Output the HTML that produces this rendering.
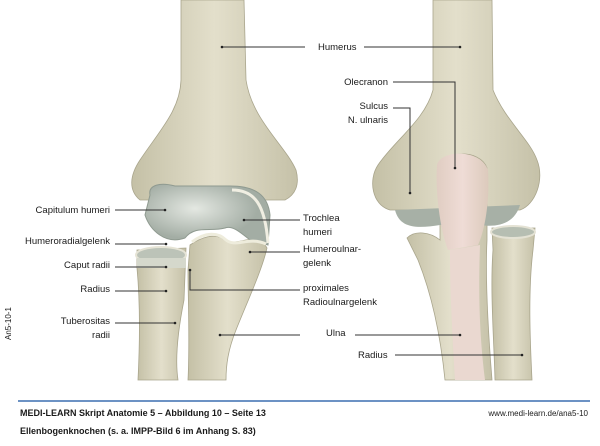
<!DOCTYPE html>
<html><head><meta charset="utf-8"><style>
body{margin:0;background:#fff;width:600px;height:441px;overflow:hidden}
svg text{font-family:"Liberation Sans",sans-serif;font-size:9.5px;fill:#1a1a1a}
</style></head><body>
<svg width="600" height="441" viewBox="0 0 600 441">
<defs>
<linearGradient id="b" x1="0" x2="1"><stop offset="0" stop-color="#c4c0a6"/><stop offset="0.5" stop-color="#e3dfcb"/><stop offset="1" stop-color="#c5c1a8"/></linearGradient>
<linearGradient id="pk" x1="0" x2="1"><stop offset="0" stop-color="#e0cdc2"/><stop offset="0.5" stop-color="#efdcd6"/><stop offset="1" stop-color="#dccabc"/></linearGradient>
<radialGradient id="c" cx="0.4" cy="0.4"><stop offset="0" stop-color="#e4e8e2"/><stop offset="1" stop-color="#a3ada4"/></radialGradient>
</defs>
<g stroke="#a9a58c" stroke-width="0.8">
<path d="M181,0 L244,0 L246,80 C252,120 285,145 296,170 C300,185 295,195 285,200 L140,200 C128,190 130,175 140,160 C160,130 180,110 181,80 Z" fill="url(#b)"/>
<path d="M137,250 L186,248 L184,300 C178,330 175,360 178,380 L138,380 C140,340 140,300 137,268 Z" fill="url(#b)"/>
<path d="M190,245 C200,238 215,232 225,240 C235,246 248,236 262,240 L267,248 C262,270 248,300 236,330 C228,350 226,365 226,380 L188,380 C190,340 188,300 188,270 Z" fill="url(#b)"/>
<path d="M433,0 L492,0 L493,90 C505,120 530,140 537,160 C545,180 535,205 520,210 L390,210 C372,205 368,180 378,165 C395,140 425,120 433,90 Z" fill="url(#b)"/>
<path d="M492,228 L535,228 L533,250 C528,290 530,340 532,380 L495,380 C494,340 490,290 493,250 Z" fill="url(#b)"/>
<path d="M407,238 C415,230 430,232 440,240 L440,170 C440,150 480,148 487,168 L487,240 C485,280 488,330 492,380 L445,380 C440,330 430,290 418,260 Z" fill="url(#b)"/>
</g>
<path d="M150,195 C148,185 160,182 175,186 L230,186 C255,186 268,195 270,215 L268,245 L250,240 C240,232 232,225 225,228 C210,232 195,225 185,238 C165,245 150,230 145,215 Z" fill="url(#c)" stroke="#8f9a90" stroke-width="1"/>
<path d="M232,190 C255,190 265,205 268,243" stroke="#f0eee2" stroke-width="3" fill="none"/>
<ellipse cx="161" cy="255" rx="25" ry="8" fill="#bcc3b8" stroke="#e6e4d6" stroke-width="2"/>
<path d="M137,258 L186,258 L186,268 L137,268 Z" fill="#d5d8cc"/>
<path d="M192,242 C205,232 218,232 226,240 C236,248 248,236 266,244" stroke="#eeecdc" stroke-width="3" fill="none"/>
<path d="M395,210 C400,230 420,228 440,225 L480,225 C500,228 515,222 520,205" fill="#a7b0a6"/>
<ellipse cx="513" cy="232" rx="22" ry="6" fill="#b6beb2" stroke="#e4e2d4" stroke-width="2"/>
<path d="M437,165 C440,150 480,148 488,170 C490,200 485,230 478,245 L448,250 C440,230 435,190 437,165 Z" fill="url(#pk)"/>
<path d="M450,250 L480,245 C478,300 480,340 485,380 L455,380 C452,330 450,290 450,250 Z" fill="#ead8d0"/>
<g stroke="#333" stroke-width="1" fill="none">
<path d="M222,47 L305,47"/><path d="M364,47 L460,47"/>
<path d="M393,82 L455,82 L455,168"/><path d="M393,108 L410,108 L410,193"/>
<path d="M115,210 L165,210"/><path d="M115,244 L166,244"/><path d="M115,267 L166,267"/>
<path d="M115,291 L166,291"/><path d="M115,323 L175,323"/>
<path d="M244,220 L300,220"/><path d="M250,252 L300,252"/>
<path d="M190,270 L190,290 L300,290"/>
<path d="M220,335 L300,335"/><path d="M355,335 L460,335"/>
<path d="M395,355 L522,355"/>
</g>
<g fill="#222">
<circle cx="222" cy="47" r="1.3"/><circle cx="460" cy="47" r="1.3"/><circle cx="455" cy="168" r="1.3"/><circle cx="410" cy="193" r="1.3"/>
<circle cx="165" cy="210" r="1.3"/><circle cx="166" cy="244" r="1.3"/><circle cx="166" cy="267" r="1.3"/><circle cx="166" cy="291" r="1.3"/><circle cx="175" cy="323" r="1.3"/>
<circle cx="244" cy="220" r="1.3"/><circle cx="250" cy="252" r="1.3"/><circle cx="190" cy="270" r="1.3"/><circle cx="220" cy="335" r="1.3"/><circle cx="460" cy="335" r="1.3"/><circle cx="522" cy="355" r="1.3"/>
</g>
<text x="318" y="50">Humerus</text>
<text x="388" y="85" text-anchor="end">Olecranon</text>
<text x="388" y="109" text-anchor="end">Sulcus</text>
<text x="388" y="123" text-anchor="end">N. ulnaris</text>
<g text-anchor="end">
<text x="110" y="213">Capitulum humeri</text>
<text x="110" y="244">Humeroradialgelenk</text>
<text x="110" y="268">Caput radii</text>
<text x="110" y="292">Radius</text>
<text x="110" y="324">Tuberositas</text>
<text x="110" y="338">radii</text>
</g>
<text x="303" y="221">Trochlea</text><text x="303" y="235">humeri</text>
<text x="303" y="252">Humeroulnar-</text><text x="303" y="266">gelenk</text>
<text x="303" y="291">proximales</text><text x="303" y="305">Radioulnargelenk</text>
<text x="326" y="336">Ulna</text>
<text x="358" y="358">Radius</text>
<text transform="translate(11,340) rotate(-90)" style="font-size:8px">An5-10-1</text>
<line x1="18" y1="401" x2="590" y2="401" stroke="#3b6fb0" stroke-width="1.5"/>
<text x="20" y="416" style="font-weight:bold;font-size:9px">MEDI-LEARN Skript Anatomie 5 – Abbildung 10 – Seite 13</text>
<text x="20" y="434" style="font-weight:bold;font-size:9px">Ellenbogenknochen (s. a. IMPP-Bild 6 im Anhang S. 83)</text>
<text x="588" y="416" text-anchor="end" style="font-size:8px">www.medi-learn.de/ana5-10</text>
</svg>
</body></html>
